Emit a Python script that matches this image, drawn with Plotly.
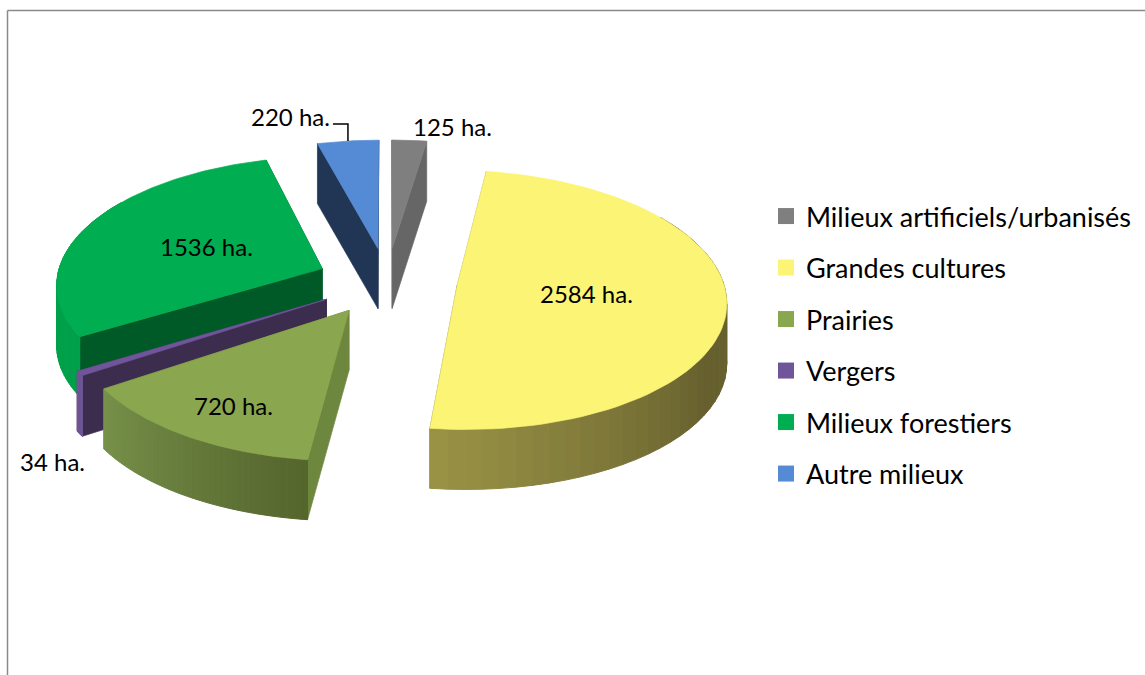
import numpy as np
import plotly.graph_objects as go

# ---- data ----
categories = ["Milieux artificiels/urbanisés", "Grandes cultures", "Prairies",
              "Vergers", "Milieux forestiers", "Autre milieux"]
values_ha = [125, 2584, 720, 34, 1536, 220]
top_colors = ["#7f7f7f", "#fbf475", "#8aa64e", "#70559a", "#00ad50", "#558ad4"]

# ---- styling of the extruded faces ----
start_wall = ["#7f7f7f", "#9a9345", "#6e873e", "#3c2c4e", "#005a28", "#213555"]
end_wall = ["#666666", "#6e6a30", "#6e873e", "#3c2c4e", "#005a28", "#213555"]
outer_light = ["#666666", "#9a9345", "#77914a", "#6f5695", "#00a04a", "#3c5f92"]
outer_dark = ["#666666", "#66602f", "#55652d", "#6f5695", "#00a04a", "#3c5f92"]
label_radius = [1.0, 0.485, 0.73, 1.0, 0.49, 1.0]
label_shift = [(43, -14), (0, 0), (0, 6), (-27, 88), (0, 0), (-57, -25)]
draw_order = [5, 0, 4, 3, 2, 1]

CX, CY, RX, RY = 387.0, 281.0, 266.0, 127.0
EXPLODE, PERSP, DEPTH = 0.265, 0.11, 60.0
W, H = 1145, 675
FONT = "Lato, Carlito, Calibri, sans-serif"

total = sum(values_ha)
edges = np.cumsum([0] + values_ha) / total * 2 * np.pi


def project(theta, r, mid):
    X = r * np.sin(theta) + EXPLODE * np.sin(mid)
    Y = r * np.cos(theta) + EXPLODE * np.cos(mid)
    s = 1.0 / (1.0 + PERSP * Y)
    return CX + RX * X * s, CY - RY * Y * s


def poly(fig, xs, ys, color, lw=0.7):
    fig.add_trace(go.Scatter(x=list(xs), y=list(ys), mode="lines", fill="toself",
                             fillcolor=color, line=dict(color=color, width=lw),
                             hoverinfo="skip", showlegend=False))


def mix(a, b, t):
    ca = [int(a[i:i + 2], 16) for i in (1, 3, 5)]
    cb = [int(b[i:i + 2], 16) for i in (1, 3, 5)]
    return "rgb(%d,%d,%d)" % tuple(round(p + (q - p) * t) for p, q in zip(ca, cb))


fig = go.Figure()

for i in draw_order:
    a0, a1 = edges[i], edges[i + 1]
    mid = (a0 + a1) / 2
    ax, ay = project(a0, 0.0, mid)

    # radial walls
    for ang, col in ((a0, start_wall[i]), (a1, end_wall[i])):
        ex, ey = project(ang, 1.0, mid)
        poly(fig, [ax, ex, ex, ax, ax], [ay, ey, ey + DEPTH, ay + DEPTH, ay], col)

    # outer curved wall, drawn in narrow bands; the parts past the sides stay under the top
    lo, hi = max(a0, np.pi / 2 - 0.6), min(a1, 3 * np.pi / 2 + 0.6)
    if hi > lo:
        n = 40
        th = np.linspace(lo, hi, n + 1)
        for k in range(n):
            f = (k + 0.5) / n
            if i == 1:   # yellow: light near its left edge, dark further right
                t = min(1.0, (1 - f) / 0.5)
            elif i == 2:  # green: dark at its right edge, light to the left
                t = 1 - f
            else:
                t = 0.0
            seg = np.linspace(th[k], th[k + 1], 3)
            px, py = project(seg, 1.0, mid)
            xs = np.r_[px, px[::-1], px[0]]
            ys = np.r_[py, py[::-1] + DEPTH, py[0]]
            poly(fig, xs, ys, mix(outer_light[i], outer_dark[i], t), lw=1.0)

    # top face
    th = np.linspace(a0, a1, 90)
    px, py = project(th, 1.0, mid)
    poly(fig, np.r_[ax, px, ax], np.r_[ay, py, ay], top_colors[i])

# leader line of the "Autre milieux" label
i = 5
mid = (edges[i] + edges[i + 1]) / 2
lx, ly = project(mid, 1.0, mid)
fig.add_trace(go.Scatter(x=[lx, lx, lx - 15], y=[ly, ly - 17, ly - 17], mode="lines",
                         line=dict(color="#000000", width=1.5), hoverinfo="skip",
                         showlegend=False))

# value labels
for i, v in enumerate(values_ha):
    mid = (edges[i] + edges[i + 1]) / 2
    x, y = project(mid, label_radius[i], mid)
    fig.add_annotation(x=x + label_shift[i][0], y=y + label_shift[i][1],
                       text=f"{v} ha.", showarrow=False,
                       font=dict(family=FONT, size=24, color="#000000"))

# legend entries
for name, col in zip(categories, top_colors):
    fig.add_trace(go.Scatter(x=[None], y=[None], mode="markers", name=name, legendgroup=name,
                             marker=dict(symbol="square", size=18, color=col)))

fig.update_layout(
    width=W, height=H, margin=dict(l=0, r=0, t=0, b=0),
    paper_bgcolor="white", plot_bgcolor="white",
    xaxis=dict(range=[0, W], visible=False, fixedrange=True),
    yaxis=dict(range=[H, 0], visible=False, fixedrange=True),
    showlegend=True,
    legend=dict(x=766 / W, y=1 - 192 / H, xanchor="left", yanchor="top",
                font=dict(family=FONT, size=27, color="#000000"),
                tracegroupgap=13.4, itemsizing="trace", bgcolor="rgba(0,0,0,0)"),
    shapes=[
        dict(type="line", xref="x", yref="y", x0=7.5, x1=W, y0=10.5, y1=10.5,
             line=dict(color="#8a8a8a", width=1.5)),
        dict(type="line", xref="x", yref="y", x0=7.5, x1=7.5, y0=10.5, y1=H,
             line=dict(color="#8a8a8a", width=1.5)),
    ],
)

fig.write_html(
    "out.html",
    config={"displayModeBar": False},
    post_script=(
        "document.body.style.margin='0';document.body.style.overflow='hidden';"
        "var st=document.createElement('style');"
        "st.textContent='text{font-variant-ligatures:none;}';"
        "document.head.appendChild(st);"
    ),
)
